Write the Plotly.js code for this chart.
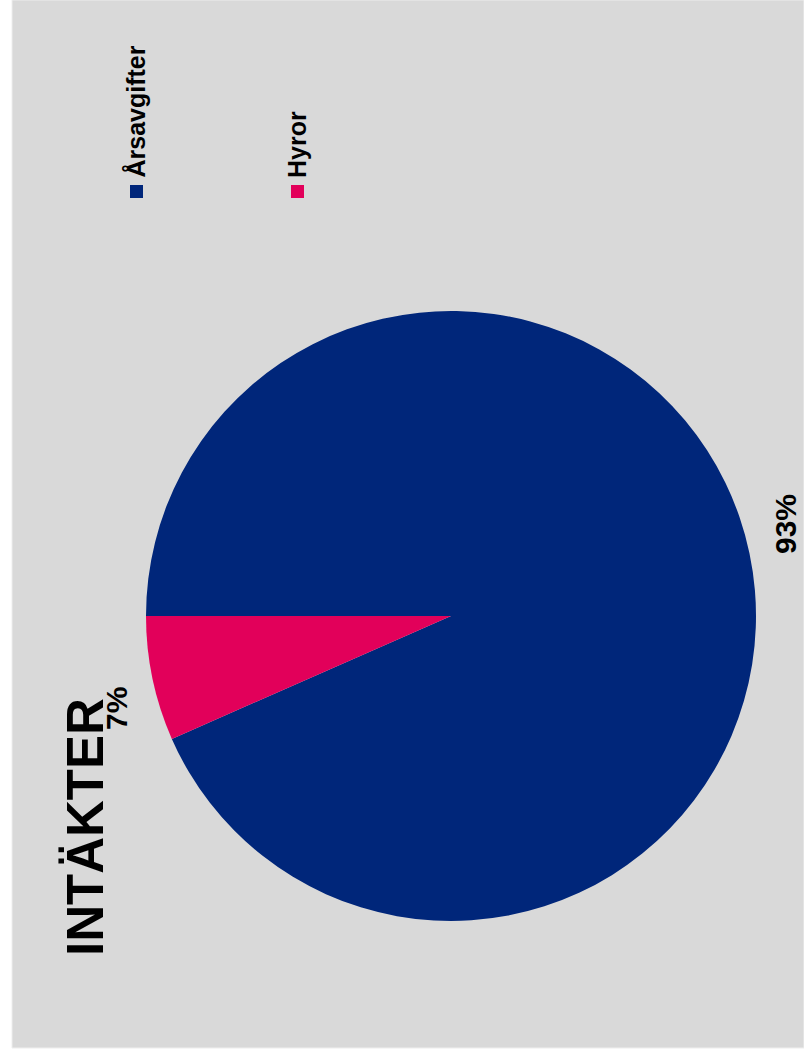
<!DOCTYPE html>
<html>
<head>
<meta charset="utf-8">
<script src="https://cdn.plot.ly/plotly-3.0.1.min.js"></script>
<style>html,body{margin:0;padding:0;background:#fff;}#chart{width:804px;height:1061px;}</style>
</head>
<body>
<div id="chart"></div>
<script>
// ---- data ----
const labels = ['Årsavgifter', 'Hyror'];
const values = [93.4, 6.6];
const colors = ['#00267a', '#e2005a'];
const chartTitle = 'INTÄKTER';

// ---- geometry / style ----
const W = 804, H = 1061;
const cx = 451, cy = 616, R = 305;
const startAngle = -90;          // first slice starts at 9 o'clock
const labelRadius = 1.14;
const labelShift = -3.5;
const font = 'Liberation Sans, Arial, sans-serif';

const total = values.reduce((a, b) => a + b, 0);
const annotations = [];
const shapes = [];

// background panel
shapes.push({type: 'rect', xref: 'paper', yref: 'paper', layer: 'below',
  x0: 12 / W, x1: 1, y0: 1 - 1048 / H, y1: 1,
  fillcolor: '#d9d9d9', line: {color: '#eeeeee', width: 1}});

// percentage labels
let cum = 0;
values.forEach((v, i) => {
  const mid = startAngle + (cum + v / 2) / total * 360 + labelShift;
  cum += v;
  const t = mid * Math.PI / 180;
  const px = cx + labelRadius * R * Math.sin(t);
  const py = cy - labelRadius * R * Math.cos(t);
  annotations.push({
    xref: 'paper', yref: 'paper', x: px / W, y: 1 - py / H,
    xanchor: 'center', yanchor: 'middle', showarrow: false, textangle: -90,
    text: Math.round(v / total * 100) + '%',
    font: {family: font, size: 30, color: '#000', weight: 'bold'}
  });
});

// rotated legend
const legendX = [136.5, 297.5];
const legendY = 191.5, sq = 13;
labels.forEach((lab, i) => {
  shapes.push({type: 'rect', xref: 'paper', yref: 'paper',
    x0: (legendX[i] - sq / 2) / W, x1: (legendX[i] + sq / 2) / W,
    y0: 1 - (legendY + sq / 2) / H, y1: 1 - (legendY - sq / 2) / H,
    fillcolor: colors[i], line: {width: 0}});
  annotations.push({
    xref: 'paper', yref: 'paper', x: (legendX[i] - 1) / W, y: 1 - 180 / H,
    xanchor: 'center', yanchor: 'bottom', showarrow: false, textangle: -90,
    text: lab, font: {family: font, size: 25, color: '#000', weight: 'bold'}
  });
});

// rotated title
annotations.push({
  xref: 'paper', yref: 'paper', x: 85 / W, y: 1 - 958 / H,
  xanchor: 'center', yanchor: 'bottom', showarrow: false, textangle: -90,
  text: chartTitle, font: {family: font, size: 51, color: '#000', weight: 'bold'}
});

const trace = {
  type: 'pie',
  labels: labels,
  values: values,
  sort: false,
  direction: 'clockwise',
  rotation: startAngle,
  textinfo: 'none',
  hoverinfo: 'label+percent',
  marker: {colors: colors, line: {width: 0}},
  domain: {x: [(cx - R) / W, (cx + R) / W], y: [1 - (cy + R) / H, 1 - (cy - R) / H]},
  showlegend: false
};

const layout = {
  width: W, height: H,
  margin: {l: 0, r: 0, t: 0, b: 0},
  paper_bgcolor: '#ffffff',
  showlegend: false,
  shapes: shapes,
  annotations: annotations
};

Plotly.newPlot('chart', [trace], layout, {displayModeBar: false, staticPlot: true});
</script>
</body>
</html>
